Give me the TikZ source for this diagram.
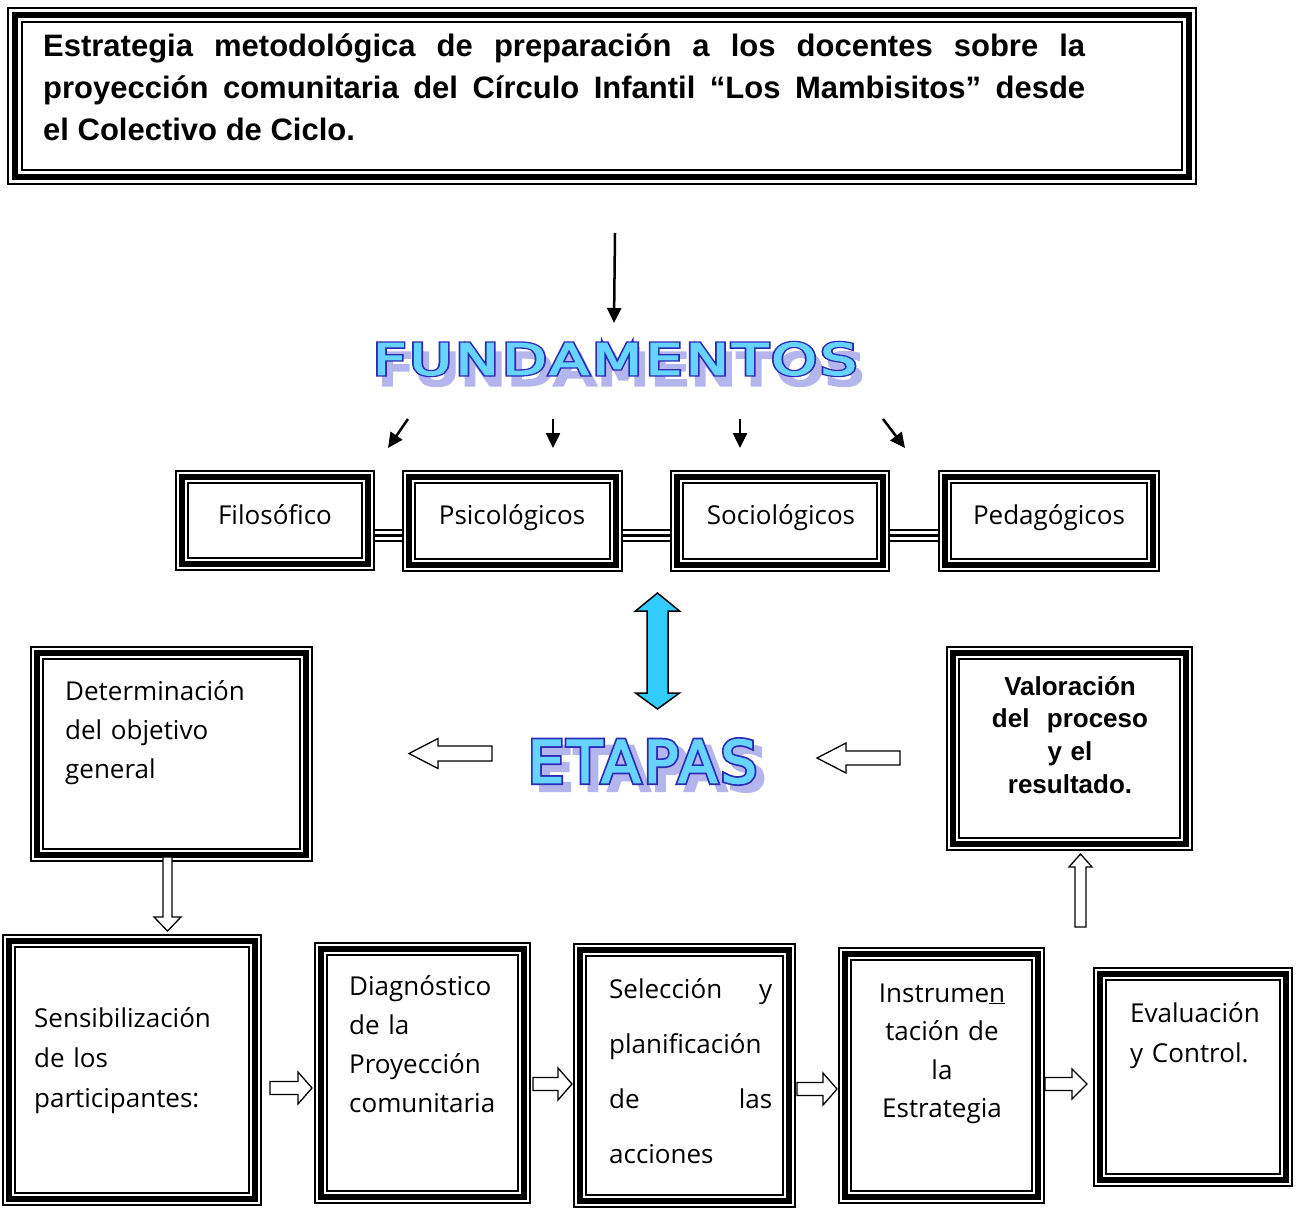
\documentclass[tikz,border=0pt]{standalone}
\usepackage{fontspec}
\usepackage{graphicx}
\usetikzlibrary{arrows.meta}
\newfontfamily\arialf{Liberation Sans}
\newfontfamily\comicf{Open Sans}
\newfontfamily\wordf[FakeBold=3,LetterSpace=6]{DejaVu Sans}
\newfontfamily\wordo[FakeBold=9,LetterSpace=6]{DejaVu Sans}
\definecolor{wafill}{HTML}{66D4FF}
\definecolor{waline}{HTML}{2B2BB5}
\definecolor{washadow}{HTML}{B5B5EE}
\definecolor{bluearrow}{HTML}{33CCFF}
\newcommand\fundtext[1]{\resizebox{484pt}{32pt}{#1FUNDAMENTOS}}
\newcommand\etaptext[1]{\resizebox{229pt}{43pt}{#1ETAPAS}}
\newcommand\myfill{\hskip 0pt plus 1filll\relax}
\newcommand\rarrow[6]{\draw[blockarrow] (#1,{#3-#4}) -- ({#2-#6},{#3-#4}) -- ({#2-#6},{#3-#5}) -- (#2,#3) -- ({#2-#6},{#3+#5}) -- ({#2-#6},{#3+#4}) -- (#1,{#3+#4}) -- cycle;}
\newcommand\varrow[6]{\draw[blockarrow] ({#1-#4},#2) -- ({#1-#4},{#3-#6}) -- ({#1-#5},{#3-#6}) -- (#1,#3) -- ({#1+#5},{#3-#6}) -- ({#1+#4},{#3-#6}) -- ({#1+#4},#2) -- cycle;}
\tikzset{
  tribox/.style={preaction={draw,line width=14pt},preaction={draw=white,line width=10pt},draw,line width=6pt,inner sep=0pt,outer sep=7pt},
  titlebox/.style={preaction={draw,line width=16pt},preaction={draw=white,line width=12pt},draw,line width=6pt,inner sep=0pt,outer sep=8pt},
  linkline/.style={preaction={draw,line width=13pt},preaction={draw=white,line width=9pt},draw,line width=3pt},
  blockarrow/.style={draw,fill=white,line width=1.3pt,line join=miter},
  thinarrow/.style={line width=2.5pt,-{Triangle[length=15pt,width=14pt]}},
  lbl/.style={font={\comicf\fontsize{26}{#1}\selectfont},inner sep=0pt,anchor=base west,align=left},
  one/.style={font={\comicf\fontsize{26}{32}\selectfont},inner sep=0pt,anchor=base},
  ttl/.style={font={\arialf\bfseries\fontsize{31}{42}\selectfont},inner sep=0pt,anchor=base west},
  wa/.style={inner sep=0pt,text=#1}
}
\begin{document}
\begin{tikzpicture}[x=1pt,y=-1pt]
\useasboundingbox (0,0) rectangle (1298,1209);
% title
\node[titlebox,minimum width=1174pt,minimum height=162pt] (title) at (602,96) {};
\node[ttl] (t1) at (43,57) {\makebox[1042pt][s]{Estrategia metodológica de preparación a los docentes sobre la}};
\node[ttl] (t2) at (43,99) {\makebox[1042pt][s]{proyección comunitaria del Círculo Infantil “Los Mambisitos” desde}};
\node[ttl] (t3) at (43,141) {el Colectivo de Ciclo.};
% top arrow
\coordinate (a0s) at (615,233);
\coordinate (a0e) at (614,323);
\draw[thinarrow] (a0s) -- (a0e);
% FUNDAMENTOS word art
\node[wa=washadow] (fundsh) at (621,369) {\fundtext{\wordo}};
\node[wa=waline] (fundo) at (615,359) {\fundtext{\wordo}};
\node[wa=wafill] (fund) at (615,359) {\fundtext{\wordf}};
% small arrows
\coordinate (f1s) at (408,419); \coordinate (f1e) at (388,448);
\coordinate (f2s) at (553,419); \coordinate (f2e) at (553,448);
\coordinate (f3s) at (740,419); \coordinate (f3e) at (740,448);
\coordinate (f4s) at (883,419); \coordinate (f4e) at (905,448);
\draw[thinarrow] (f1s) -- (f1e);
\draw[thinarrow] (f2s) -- (f2e);
\draw[thinarrow] (f3s) -- (f3e);
\draw[thinarrow] (f4s) -- (f4e);
% fundamentos boxes
\coordinate (yc) at (0,535);
\node[tribox,minimum width=186pt,minimum height=87pt] (filo) at (275,520.5) {};
\node[tribox,minimum width=207pt,minimum height=88pt] (psico) at (512.5,521) {};
\node[tribox,minimum width=206pt,minimum height=88pt] (socio) at (780,521) {};
\node[tribox,minimum width=208pt,minimum height=88pt] (peda) at (1049,521) {};
\draw[linkline] (filo.east |- yc) -- (psico.west |- yc);
\draw[linkline] (psico.east |- yc) -- (socio.west |- yc);
\draw[linkline] (socio.east |- yc) -- (peda.west |- yc);
\node[one] (filot) at (275,524) {Filosófico};
\node[one] (psicot) at (512,524) {Psicológicos};
\node[one] (sociot) at (781,524) {Sociológicos};
\node[one] (pedat) at (1049,524) {Pedagógicos};
% blue double arrow
\draw[fill=bluearrow,line width=1.5pt,line join=miter] (657.5,593) -- (679.5,611) -- (668,611) -- (668,693) -- (679.5,693) -- (657.5,709) -- (635.5,693) -- (647,693) -- (647,611) -- (635.5,611) -- cycle;
% ETAPAS word art
\node[wa=washadow] (etapsh) at (650.5,768.5) {\etaptext{\wordo}};
\node[wa=waline] (etapo) at (642.5,761.5) {\etaptext{\wordo}};
\node[wa=wafill] (etap) at (642.5,761.5) {\etaptext{\wordf}};
% hollow arrows near ETAPAS
\rarrow{492}{409}{753.5}{7.5}{15}{-29}
\rarrow{900}{817}{758}{7}{15}{-29}
% Determinacion box
\node[tribox,minimum width=269pt,minimum height=202pt] (deter) at (171.5,754) {};
\node[lbl=39,text width=230pt] (detert) at (65,700) {Determinación\\del objetivo\\general};
% Valoracion box
\node[tribox,minimum width=233pt,minimum height=191pt] (valor) at (1069.5,748.5) {};
\node[font={\arialf\bfseries\fontsize{26}{32.7}\selectfont},inner sep=0pt,anchor=base,align=center,text width=220pt] (valort) at (1070,695) {Valoración\\del~ proceso\\y el\\resultado.};
% vertical hollow arrows
\varrow{167.5}{857}{931}{4.5}{13.5}{14}
\varrow{1080.5}{927}{854}{5.5}{11.5}{-13}
% bottom boxes
\node[tribox,minimum width=246pt,minimum height=258pt] (sens) at (132,1070) {};
\node[tribox,minimum width=203pt,minimum height=248pt] (diag) at (422.5,1073) {};
\node[tribox,minimum width=209pt,minimum height=251pt] (sele) at (684.5,1075.5) {};
\node[tribox,minimum width=193pt,minimum height=243pt] (inst) at (941.5,1075.5) {};
\node[tribox,minimum width=186pt,minimum height=206pt] (eval) at (1193,1077) {};
\node[lbl=40,text width=215pt] (senst) at (34,1027) {Sensibilización\\de los\\participantes:};
\node[lbl=39.3,text width=170pt] (diagt) at (349,995) {Diagnóstico\\de la\\Proyección\\comunitaria};
\node[lbl=55,text width=163pt] (selet) at (609,998) {Selección\myfill y\\planificación\\de\myfill las\\acciones};
\node[font={\comicf\fontsize{26}{38.5}\selectfont},inner sep=0pt,anchor=base,align=center,text width=180pt] (instt) at (942,1002) {Instrume\underline{n}\\tación de\\la\\Estrategia};
\node[lbl=40,text width=150pt] (evalt) at (1130,1022) {Evaluación\\y Control.};
% hollow arrows between bottom boxes
\rarrow{270}{312}{1088}{6.5}{16}{14}
\rarrow{533}{572}{1084}{6.5}{16}{14}
\rarrow{797}{837}{1089}{6.5}{16}{14}
\rarrow{1045}{1087}{1084}{6.5}{15}{15}
\end{tikzpicture}
\end{document}
